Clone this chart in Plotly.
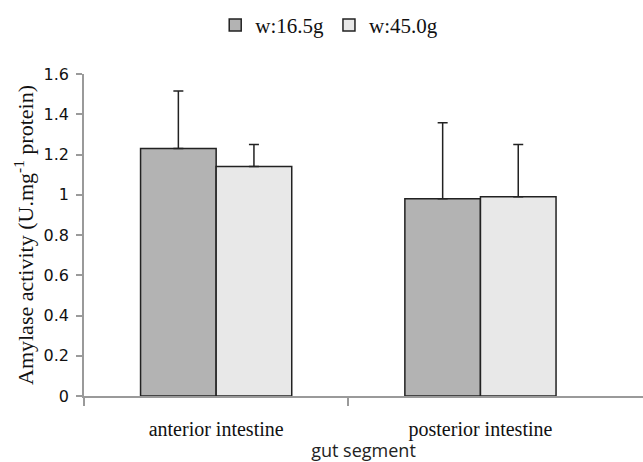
import plotly.graph_objects as go

categories = ["anterior intestine", "posterior intestine"]
series_names = ["w:16.5g", "w:45.0g"]
values_small = [1.23, 0.98]
errors_small = [0.285, 0.378]
values_large = [1.14, 0.99]
errors_large = [0.11, 0.26]
y_ticks = [0, 0.2, 0.4, 0.6, 0.8, 1, 1.2, 1.4, 1.6]
y_tick_text = ["0", "0.2", "0.4", "0.6", "0.8", "1", "1.2", "1.4", "1.6"]

W, H = 643, 462
L, R, T, B = 84, 0, 74, 66
cat_px = 264.3
plot_w = W - L - R
x_range = [-0.5, -0.5 + plot_w / cat_px]

fig = go.Figure()
for name, vals, errs, color in [
    (series_names[0], values_small, errors_small, "#b3b3b3"),
    (series_names[1], values_large, errors_large, "#e8e8e8"),
]:
    fig.add_trace(go.Bar(
        name=name, x=categories, y=vals,
        marker=dict(color=color, line=dict(color="#222222", width=1.5)),
        error_y=dict(type="data", array=errs, arrayminus=[0] * len(errs),
                     symmetric=False, color="#222222", thickness=1.5, width=5),
    ))

# overlay axis used only for the between-category tick marks
fig.add_trace(go.Scatter(x=[None], y=[None], xaxis="x2", showlegend=False, hoverinfo="skip"))

fig.update_layout(
    width=W, height=H,
    margin=dict(l=L, r=R, t=T, b=B, autoexpand=False),
    paper_bgcolor="white", plot_bgcolor="white",
    barmode="group", bargap=0.428, bargroupgap=0,
    legend=dict(orientation="h", xref="container", x=0.512, xanchor="center",
                yref="container", y=0.945, yanchor="middle",
                font=dict(family="Liberation Serif", size=21, color="#111"),
                itemwidth=30, tracegroupgap=0, traceorder="normal"),
    xaxis=dict(type="category", range=x_range, showline=True, linecolor="#9a9a9a",
               linewidth=1.5, ticks="", showgrid=False, zeroline=False,
               ticklabelstandoff=14,
               tickfont=dict(family="Liberation Serif", size=20, color="#111"),
               title=dict(text="gut segment", standoff=2,
                          font=dict(family="Open Sans", size=18, color="#222"))),
    xaxis2=dict(overlaying="x", range=x_range, tickvals=[-0.5, 0.5], ticks="outside",
                ticklen=9, tickwidth=1.5, tickcolor="#9a9a9a", showticklabels=False,
                showgrid=False, zeroline=False, showline=False, side="bottom",
                anchor="y"),
    yaxis=dict(range=[0, 1.6], tickvals=y_ticks, ticktext=y_tick_text,
               showline=True, linecolor="#9a9a9a", linewidth=1.5,
               ticks="outside", ticklen=6, tickwidth=1.5, tickcolor="#9a9a9a",
               showgrid=False, zeroline=False, ticklabelstandoff=4,
               tickfont=dict(family="DejaVu Sans", size=16, color="#111"),
               title=dict(text="Amylase activity (U.mg<sup>-1</sup> protein)", standoff=4,
                          font=dict(family="Liberation Serif", size=22, color="#111"))),
)

fig.write_html("out.html")
